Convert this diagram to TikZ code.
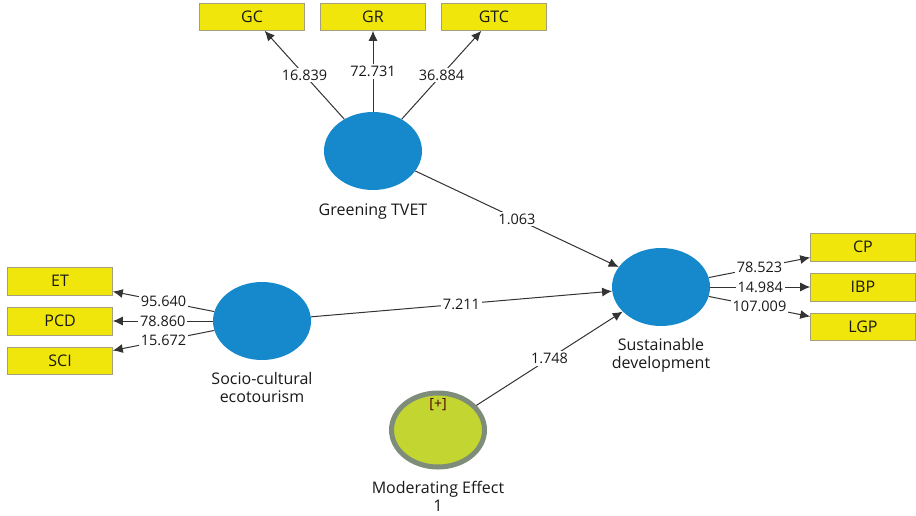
\documentclass[tikz,border=0pt]{standalone}
\usepackage{fontspec}
\setmainfont{Open Sans}
\usetikzlibrary{arrows.meta,positioning,shapes.geometric}
\definecolor{lvblue}{HTML}{1589CB}
\definecolor{indyellow}{HTML}{F0E60C}
\definecolor{indedge}{HTML}{A3A07A}
\definecolor{modgreen}{HTML}{C2D530}
\definecolor{modring}{HTML}{7E8C7A}
\definecolor{linegray}{HTML}{333333}

\begin{document}
\begin{tikzpicture}[x=1pt, y=-1pt, font=\fontsize{16}{18}\selectfont, text=black!90,
  node distance={12pt},
  lv/.style = {ellipse, fill=lvblue, minimum width=98pt, minimum height=78pt, inner sep=0pt},
  mod/.style = {ellipse, draw=modring, line width=5pt, fill=modgreen, minimum width=93pt, minimum height=74pt, inner sep=0pt},
  ind/.style = {draw=indedge, fill=indyellow, minimum width=105pt, minimum height=27.5pt, inner sep=0pt},
  lvname/.style = {align=center, inner sep=1pt},
  link/.style = {draw=linegray, line width=1pt, -{Latex[length=10pt,width=9pt]}},
  coef/.style = {fill=white, inner sep=2pt, pos=0.5, font=\fontsize{14.5}{16}\selectfont}]
\useasboundingbox (0,0) rectangle (916,515);
% latent variables
\node[lv] (tvet) at (373,151) {};
\node[lv] (sce) at (262,321) {};
\node[lv] (sd) at (661,287) {};
\node[mod] (me) at (438,430) {};
\node (mesign) at ([yshift=-14pt]me.north) {\fontsize{14}{16}\selectfont\color{black!70!red}[+]};
% names
\node[lvname] (tvetname) [below=12pt of tvet] {Greening TVET};
\node[lvname] (scename) [below=11pt of sce] {Socio-cultural\\ecotourism};
\node[lvname] (sdname) [below=11pt of sd] {Sustainable\\development};
\node[lvname] (mename) [below=11pt of me] {Moderating Effect\\1};
% indicators
\node[ind] (gr) [above=81pt of tvet] {GR};
\node[ind] (gc) [left=15.5pt of gr] {GC};
\node[ind] (gtc) [right=15.5pt of gr] {GTC};
\node[ind] (pcd) [left=100pt of sce] {PCD};
\node[ind] (et) [above=of pcd] {ET};
\node[ind] (sci) [below=of pcd] {SCI};
\node[ind] (ibp) [right=100pt of sd] {IBP};
\node[ind] (cp) [above=of ibp] {CP};
\node[ind] (lgp) [below=of ibp] {LGP};
% outer loadings
\draw[link] (tvet) -- node[coef] {16.839} (gc);
\draw[link] (tvet) -- node[coef] {72.731} (gr);
\draw[link] (tvet) -- node[coef] {36.884} (gtc);
\draw[link] (sce) -- node[coef] {95.640} (et);
\draw[link] (sce) -- node[coef] {78.860} (pcd);
\draw[link] (sce) -- node[coef] {15.672} (sci);
\draw[link] (sd) -- node[coef] {78.523} (cp);
\draw[link] (sd) -- node[coef] {14.984} (ibp);
\draw[link] (sd) -- node[coef] {107.009} (lgp);
% inner model
\draw[link] (tvet) -- node[coef] {1.063} (sd);
\draw[link] (sce) -- node[coef] {7.211} (sd);
\draw[link] (me) -- node[coef] {1.748} (sd);
\end{tikzpicture}
\end{document}
